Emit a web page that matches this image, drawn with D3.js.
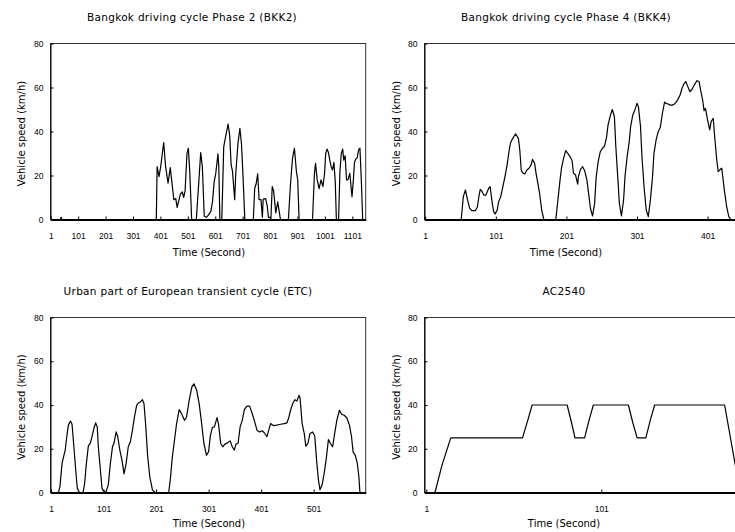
<!DOCTYPE html>
<html>
<head>
<meta charset="utf-8">
<script src="https://cdn.jsdelivr.net/npm/d3@7"></script>
<style>
body { margin: 0; background: #fff; }
svg { display: block; background: #fff; }
</style>
</head>
<body>
<div id="chart"></div>
<script>
var speedTicks = [0, 20, 40, 60, 80];
var bkk2Ticks = [1, 101, 201, 301, 401, 501, 601, 701, 801, 901, 1001, 1101];
var bkk4Ticks = [1, 101, 201, 301, 401];
var etcTicks = [1, 101, 201, 301, 401, 501];
var ac2540Ticks = [1, 101];

// [time (s), speed (km/h)]
var bkk2Cycle = [[1,0],[36,0],[39,1],[42,0],[386,0],[389,24],[396,19.5],[402,24],[413,35],[420,24],[429,16.5],[437,23.6],[442,18],[450,9],[457,9.5],[462,5.5],[469,9],[474,11.6],[481,12.5],[486,10],[491,13],[498,30],[503,32.4],[508,22],[515,0],[532,0],[540,15],[548,30.4],[554,24],[561,1.5],[569,1],[576,2],[585,3.7],[591,8],[597,17],[603,21],[611,29.8],[614,24],[618,0],[625,0],[632,33],[640,38.4],[648,43.4],[654,38],[659,24.8],[664,22],[672,9],[676,21],[684,34.6],[691,41.4],[697,34],[703,18],[709,0],[740,0],[745,14.2],[750,16],[756,20.7],[761,9],[768,9],[773,1],[776,9.3],[785,9.5],[791,6],[795,1],[801,1],[804,0],[809,15],[814,13],[822,3],[829,8],[834,4],[839,0],[868,0],[875,15],[883,27.8],[890,32.4],[897,22],[902,18],[907,0],[956,0],[963,21],[967,25.5],[973,18],[980,14],[987,18],[994,15],[1000,21],[1004,30],[1009,32],[1014,30.5],[1019,27],[1024,24],[1029,22.5],[1034,26],[1039,17],[1043,0],[1051,0],[1056,22],[1061,30],[1066,32],[1070,27],[1075,29],[1080,18],[1085,18],[1092,21],[1100,10.4],[1105,18],[1109,26],[1114,27.5],[1119,28],[1124,31.6],[1129,32.4],[1134,18],[1139,0],[1150,0]];

var bkk4Cycle = [[1,0],[52,0],[55,10.4],[58,13.4],[61,8.9],[64,5.1],[67,4],[72,4],[75,5.8],[77,10.4],[79,13.7],[81,13.1],[84,11.1],[87,11.1],[88,11.9],[91,14.2],[93,14.9],[96,7.3],[98,3.6],[100,2.5],[103,4.3],[105,8.1],[108,10.4],[111,14.9],[114,19.5],[117,24.8],[120,31.6],[122,34.9],[125,36.9],[129,38.9],[133,36.9],[135,31.6],[137,22.5],[139,21.3],[142,20.7],[145,22.5],[148,23.3],[151,24.8],[153,27.3],[156,25.5],[158,21],[161,15.7],[163,11.9],[166,4.3],[169,0],[186,0],[189,8.9],[192,18],[194,23.3],[197,27.8],[200,31.3],[203,30.1],[206,28.6],[209,26.8],[211,21],[214,20.2],[217,16.1],[218,19.5],[221,22.8],[224,24],[227,22],[230,18],[233,10.4],[235,5.1],[238,1.6],[241,7.3],[243,18.7],[246,26.3],[249,30.8],[252,32.3],[255,33.4],[258,37.7],[260,43],[263,47],[266,50],[269,46.7],[271,33.1],[274,18],[276,7.3],[279,1.6],[282,8.9],[284,19.5],[287,28.6],[290,35.4],[292,42.2],[295,47.5],[298,49.8],[301,52.8],[303,51.3],[306,42.2],[308,28.6],[311,14.9],[314,4.3],[317,1.3],[320,8.9],[323,19.5],[325,30.1],[328,36.1],[331,39.9],[334,41.9],[337,48.3],[340,53.4],[342,52.8],[345,52.5],[348,52],[351,52],[354,52.5],[356,53.1],[359,54.6],[362,56.6],[365,59.9],[368,61.9],[370,62.7],[373,60.4],[376,58.1],[379,59.2],[382,61.1],[386,63.1],[389,62.7],[391,58.9],[394,54.3],[396,49.5],[398,50.5],[401,45.2],[404,40.7],[406,44.5],[409,46],[411,37.7],[414,27],[416,21.8],[419,22.8],[421,23.3],[423,18],[425,12.7],[428,5.8],[431,1.3],[434,0],[450,0]];

var etcCycle = [[1,0],[15,0],[18,2.7],[22,13.3],[25,16.4],[28,19.4],[31,25.5],[34,30.8],[38,32.7],[41,31.2],[44,22.4],[48,10.3],[51,2],[55,0],[62,0],[65,4.2],[68,12.6],[72,21.2],[76,22.7],[79,25.5],[83,29.7],[86,31.8],[89,30],[91,20.9],[95,10.3],[98,2],[102,0],[106,0.5],[110,3.5],[114,13.3],[118,20.9],[121,22.7],[125,27.7],[128,25.5],[132,19.4],[136,14.8],[140,8.5],[144,13.3],[148,20.9],[152,23.2],[156,28.5],[160,34.8],[164,39.8],[167,40.9],[171,41.4],[175,42.4],[178,40.6],[181,31.5],[185,16.4],[189,7.3],[194,1.2],[199,0],[225,0],[228,5.8],[232,16.4],[236,23.9],[240,31.5],[245,37.9],[250,35.8],[255,33],[259,34.5],[264,42.1],[269,48.2],[273,49.7],[278,47],[283,40.6],[287,33],[292,22.4],[297,17],[301,18.6],[304,25.5],[308,29.7],[312,30],[317,34.2],[320,31],[324,22.4],[328,20.9],[332,22.1],[337,22.7],[342,23.6],[346,20.9],[350,19.4],[353,22.1],[357,22.4],[361,30],[365,33],[369,37.9],[374,39.5],[379,39.5],[383,36.8],[388,33],[393,28.5],[398,27.7],[403,28.2],[407,27.3],[412,25.5],[415,28.2],[419,31.5],[424,30.6],[431,30.8],[438,31.2],[445,31.5],[450,31.8],[453,33.8],[457,37.6],[461,40.6],[465,42.4],[469,41.8],[473,44.4],[475,43.3],[479,31.5],[483,27],[486,21.2],[490,22.4],[494,27],[499,27.7],[503,25.8],[507,13.3],[510,5.8],[513,1.2],[517,3.5],[521,8.8],[525,15.6],[529,24.2],[533,22.4],[537,20.9],[541,27],[545,33],[550,37.6],[554,35.8],[559,35.3],[564,34.2],[569,30.8],[573,25.5],[576,18.6],[580,17.1],[584,13.3],[587,7.3],[589,0],[600,0]];

var ac2540Cycle = [[1,0],[6,0],[10,12.5],[15,25],[56,25],[59,33],[61.5,40],[81.5,40],[84,32],[86,25],[91.5,25],[94,33],[96.5,40],[116.5,40],[119,32],[121.5,25],[126.5,25],[129,33],[131.5,40],[171.5,40],[177.5,13],[180.5,0],[185,0]];

var svg = d3.select('#chart').append('svg')
    .attr('width', 735)
    .attr('height', 532)
    .style('overflow', 'hidden');

var renderCycle = function(
    data,
    title,
    timeTicks,
    maxTime,
    left,
    right,
    top,
    bottom,
    titleX,
    titleY,
    yLabelX,
    xLabelX,
    xLabelY
) {
    var x = d3.scaleLinear().domain([0, maxTime]).range([left, right]);
    var y = d3.scaleLinear().domain([0, 80]).range([bottom, top]);

    // plot area border
    svg.append('rect')
        .attr('x', left)
        .attr('y', top)
        .attr('width', right - left)
        .attr('height', bottom - top)
        .attr('fill', 'none')
        .attr('stroke', '#333')
        .attr('stroke-width', 1);

    var xAxis = svg.append('g')
        .attr('transform', 'translate(0,' + bottom + ')')
        .call(d3.axisBottom(x).tickValues(timeTicks).tickFormat(d3.format('d'))
            .tickSizeInner(-3).tickSizeOuter(0).tickPadding(13));
    xAxis.select('.domain').attr('stroke', '#000').attr('stroke-width', 2);

    var yAxis = svg.append('g')
        .attr('transform', 'translate(' + left + ',0)')
        .call(d3.axisLeft(y).tickValues(speedTicks).tickFormat(d3.format('d'))
            .tickSizeInner(-3).tickSizeOuter(0).tickPadding(7));
    yAxis.select('.domain').attr('stroke', '#000');

    svg.selectAll('.tick text')
        .attr('font-family', '"Liberation Sans", Arial, sans-serif')
        .attr('font-size', 8.5)
        .attr('fill', '#000');
    svg.selectAll('.tick line').attr('stroke', '#000');

    svg.append('path')
        .datum(data)
        .attr('fill', 'none')
        .attr('stroke', '#000')
        .attr('stroke-width', 1.2)
        .attr('stroke-linejoin', 'round')
        .attr('d', d3.line().x(d => x(d[0])).y(d => y(d[1])));

    svg.append('text')
        .attr('x', titleX)
        .attr('y', titleY)
        .attr('text-anchor', 'middle')
        .attr('font-family', '"DejaVu Sans", sans-serif')
        .attr('font-size', 10.5)
        .attr('letter-spacing', 0.3)
        .text(title);

    svg.append('text')
        .attr('transform', 'translate(' + yLabelX + ',' + ((top + bottom) / 2 + 2) + ') rotate(-90)')
        .attr('text-anchor', 'middle')
        .attr('dy', '0.35em')
        .attr('font-family', '"DejaVu Sans", sans-serif')
        .attr('font-size', 10)
        .text('Vehicle speed (km/h)');

    svg.append('text')
        .attr('x', xLabelX)
        .attr('y', xLabelY)
        .attr('text-anchor', 'middle')
        .attr('dy', '0.35em')
        .attr('font-family', '"DejaVu Sans", sans-serif')
        .attr('font-size', 10)
        .text('Time (Second)');
};

//BKK2
renderCycle(bkk2Cycle, 'Bangkok driving cycle Phase 2 (BKK2)', bkk2Ticks, 1150,
    50.5, 365.7, 43.5, 219.5, 192, 21, 21, 209, 252);

//BKK4
renderCycle(bkk4Cycle, 'Bangkok driving cycle Phase 4 (BKK4)', bkk4Ticks, 450,
    424.5, 742.2, 43.5, 219.5, 566, 21, 396, 566, 252);

//ETC urban
renderCycle(etcCycle, 'Urban part of European transient cycle (ETC)', etcTicks, 600,
    50.5, 365.7, 317.5, 492.5, 188, 295, 21, 209, 523.5);

//AC2540
renderCycle(ac2540Cycle, 'AC2540', ac2540Ticks, 185,
    424.5, 748.25, 317.5, 492.5, 564, 295, 396, 564, 523.5);
</script>
</body>
</html>
